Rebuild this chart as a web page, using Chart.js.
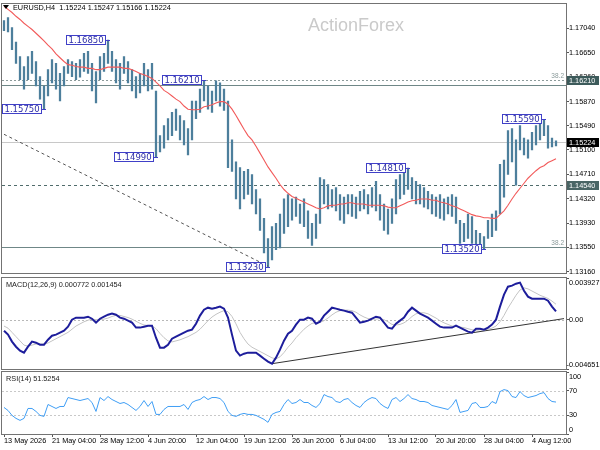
<!DOCTYPE html>
<html>
<head>
<meta charset="utf-8">
<script src="https://cdn.jsdelivr.net/npm/chart.js@4.4.0/dist/chart.umd.min.js"></script>
<style>
  html, body { margin: 0; padding: 0; background: #fff; }
  #wrap { position: relative; width: 600px; height: 450px; overflow: hidden; }
  .pane { position: absolute; left: 0; width: 600px; }
  #mainPane { top: 0; height: 278px; }
  #macdPane { top: 276px; height: 96px; }
  #rsiPane { top: 370px; height: 80px; }
</style>
</head>
<body>
<div id="wrap">
  <div class="pane" id="mainPane"><canvas id="mainChart"></canvas></div>
  <div class="pane" id="macdPane"><canvas id="macdChart"></canvas></div>
  <div class="pane" id="rsiPane"><canvas id="rsiChart"></canvas></div>
</div>
<script>
const FONT = '"Liberation Sans", Arial, sans-serif';
Chart.defaults.font.family = FONT;
Chart.defaults.font.size = 7.3;
Chart.defaults.color = '#000';
Chart.defaults.animation = false;

// eje de tiempo
const tickLabels = ['13 May 2026', '21 May 04:00', '28 May 12:00', '4 Jun 20:00', '12 Jun 04:00', '19 Jun 12:00',
  '26 Jun 20:00', '6 Jul 04:00', '13 Jul 12:00', '20 Jul 20:00', '28 Jul 04:00', '4 Aug 12:00'];
const slotCount = 141;
const barsPerTick = 12;

// precios (máximo / mínimo de cada barra)
const priceHigh = [
  1.1716, 1.1721, 1.1705, 1.1682, 1.1659, 1.1643, 1.1659, 1.1667, 1.1651, 1.1627,
  1.1612, 1.1638, 1.1654, 1.1648, 1.1632, 1.1643, 1.1654, 1.1651, 1.1648, 1.1654,
  1.1664, 1.1667, 1.1648, 1.1635, 1.1659, 1.1664, 1.1685, 1.1667, 1.1654, 1.1648,
  1.1659, 1.1651, 1.1638, 1.1627, 1.1632, 1.1648, 1.1638, 1.1648, 1.1604, 1.1533,
  1.1549, 1.1560, 1.1570, 1.1575, 1.1565, 1.1557, 1.1544, 1.1588, 1.1588, 1.1607,
  1.1621, 1.1612, 1.1604, 1.1620, 1.1617, 1.1607, 1.1588, 1.1526, 1.1491, 1.1482,
  1.1476, 1.1479, 1.1471, 1.1447, 1.1432, 1.1401, 1.1369, 1.1388, 1.1393, 1.1408,
  1.1432, 1.1439, 1.1432, 1.1435, 1.1424, 1.1432, 1.1413, 1.1393, 1.1408, 1.1466,
  1.1463, 1.1455, 1.1447, 1.1450, 1.1439, 1.1435, 1.1439, 1.1439, 1.1435, 1.1444,
  1.1447, 1.1439, 1.1450, 1.1460, 1.1439, 1.1424, 1.1416, 1.1432, 1.1463, 1.1471,
  1.1476, 1.1481, 1.1466, 1.1460, 1.1455, 1.1450, 1.1444, 1.1439, 1.1435, 1.1439,
  1.1432, 1.1435, 1.1439, 1.1435, 1.1398, 1.1393, 1.1408, 1.1404, 1.1382, 1.1377,
  1.1372, 1.1398, 1.1408, 1.1413, 1.1487, 1.1494, 1.1541, 1.1544, 1.1526, 1.1549,
  1.1529, 1.1526, 1.1538, 1.1549, 1.1557, 1.1559, 1.1549, 1.1529, 1.15247
];
const priceLow = [
  1.1700, 1.1698, 1.1670, 1.1648, 1.1622, 1.1607, 1.1622, 1.1632, 1.1612, 1.1591,
  1.1575, 1.1596, 1.1617, 1.1607, 1.1588, 1.1612, 1.1632, 1.1627, 1.1622, 1.1626,
  1.1635, 1.1632, 1.1604, 1.1585, 1.1622, 1.1635, 1.1648, 1.1635, 1.1617, 1.1607,
  1.1632, 1.1617, 1.1604, 1.1593, 1.1601, 1.1612, 1.1604, 1.1607, 1.1499, 1.1507,
  1.1513, 1.1526, 1.1533, 1.1541, 1.1526, 1.1518, 1.1502, 1.1526, 1.1560, 1.1570,
  1.1588, 1.1575, 1.1570, 1.1588, 1.1580, 1.1573, 1.1482, 1.1476, 1.1432, 1.1416,
  1.1432, 1.1439, 1.1424, 1.1408, 1.1382, 1.1346, 1.1323, 1.1335, 1.1351, 1.1354,
  1.1377, 1.1388, 1.1398, 1.1404, 1.1393, 1.1388, 1.1369, 1.1358, 1.1369, 1.1393,
  1.1424, 1.1416, 1.1419, 1.1413, 1.1398, 1.1393, 1.1408, 1.1404, 1.1401, 1.1413,
  1.1416, 1.1408, 1.1419, 1.1413, 1.1398, 1.1382, 1.1376, 1.1393, 1.1408, 1.1432,
  1.1439, 1.1447, 1.1432, 1.1424, 1.1424, 1.1419, 1.1416, 1.1408, 1.1404, 1.1401,
  1.1398, 1.1408, 1.1404, 1.1393, 1.1361, 1.1364, 1.1369, 1.1361, 1.1357, 1.1354,
  1.1352, 1.1369, 1.1372, 1.1382, 1.1408, 1.1435, 1.1471, 1.1491, 1.1454, 1.1510,
  1.1502, 1.1497, 1.1510, 1.1518, 1.1526, 1.1533, 1.1513, 1.1515, 1.15166
];
// media móvil (línea roja)
const maValues = [
  1.1739, 1.1734, 1.1729, 1.1723, 1.1718, 1.1712, 1.1707, 1.1702, 1.1696, 1.1690,
  1.1684, 1.1677, 1.1671, 1.1663, 1.1657, 1.1651, 1.1646, 1.1645, 1.1643, 1.1642,
  1.1642, 1.1640, 1.1640, 1.1638, 1.1638, 1.1640, 1.1642, 1.1642, 1.1642, 1.1642,
  1.1640, 1.1640, 1.1638, 1.1635, 1.1632, 1.1630, 1.1627, 1.1624, 1.1618, 1.1612,
  1.1605, 1.1601, 1.1596, 1.1591, 1.1587, 1.1580, 1.1575, 1.1574, 1.1574, 1.1575,
  1.1579, 1.1580, 1.1582, 1.1585, 1.1587, 1.1587, 1.1583, 1.1575, 1.1565, 1.1554,
  1.1543, 1.1533, 1.1526, 1.1516, 1.1505, 1.1494, 1.1483, 1.1474, 1.1465, 1.1455,
  1.1447, 1.1441, 1.1436, 1.1433, 1.1430, 1.1427, 1.1424, 1.1421, 1.1418, 1.1416,
  1.1418, 1.1421, 1.1422, 1.1422, 1.1424, 1.1424, 1.1426, 1.1426, 1.1424, 1.1424,
  1.1424, 1.1422, 1.1422, 1.1422, 1.1422, 1.1421, 1.1419, 1.1418, 1.1418, 1.1421,
  1.1424, 1.1427, 1.1429, 1.1430, 1.1432, 1.1432, 1.1432, 1.1430, 1.1430, 1.1427,
  1.1426, 1.1424, 1.1421, 1.1419, 1.1416, 1.1413, 1.1410, 1.1407, 1.1405, 1.1404,
  1.1402, 1.1402, 1.1401, 1.1401, 1.1407, 1.1413, 1.1422, 1.1432, 1.1441, 1.1449,
  1.1457, 1.1465, 1.1471, 1.1477, 1.1482, 1.1485, 1.1490, 1.1493, 1.1496
];
const priceTicks = [1.1316, 1.1355, 1.1393, 1.1432, 1.1471, 1.1510, 1.1549, 1.1587, 1.1626, 1.1665, 1.1704];
const levelPrices = [1.1621, 1.1613, 1.15224, 1.1454, 1.1355];
const fibPrices = [1.1621, 1.1355];
const tagPrices = [1.1621, 1.15224, 1.1454];
const markerIdx = [26, 10, 50, 38, 66, 101, 120, 135];
const markerPrice = [1.1685, 1.1575, 1.1621, 1.1499, 1.1323, 1.1481, 1.1352, 1.1559];
const priceTrend = [[0, 1.1535], [66, 1.1325]];

// MACD(12,26,9)
const macdMain = [
  -0.00104, -0.00141, -0.00207, -0.00255, -0.00292, -0.00311, -0.00255, -0.00207, -0.00217, -0.00236,
  -0.00236, -0.00189, -0.00151, -0.00141, -0.00123, -0.00104, -0.00066, 0.00000, 0.00019, 0.00019,
  0.00019, 0.00028, 0.00009, -0.00028, 0.00009, 0.00028, 0.00047, 0.00057, 0.00047, 0.00019,
  0.00009, -0.00009, -0.00028, -0.00075, -0.00075, -0.00066, -0.00057, -0.00057, -0.00170, -0.00264,
  -0.00264, -0.00236, -0.00179, -0.00160, -0.00141, -0.00123, -0.00104, -0.00094, -0.00038, 0.00038,
  0.00094, 0.00113, 0.00104, 0.00113, 0.00123, 0.00104, 0.00019, -0.00141, -0.00292, -0.00339,
  -0.00321, -0.00311, -0.00311, -0.00311, -0.00339, -0.00368, -0.00396, -0.00415, -0.00358, -0.00283,
  -0.00198, -0.00132, -0.00104, -0.00047, 0.00000, 0.00000, 0.00019, 0.00009, -0.00038, -0.00019,
  0.00038, 0.00075, 0.00113, 0.00104, 0.00094, 0.00085, 0.00075, 0.00066, 0.00019, -0.00028,
  -0.00019, -0.00009, 0.00009, 0.00028, 0.00019, -0.00028, -0.00075, -0.00085, -0.00038, -0.00009,
  0.00019, 0.00075, 0.00113, 0.00085, 0.00057, 0.00038, 0.00019, -0.00009, -0.00038, -0.00066,
  -0.00075, -0.00075, -0.00075, -0.00057, -0.00075, -0.00094, -0.00113, -0.00123, -0.00085, -0.00085,
  -0.00094, -0.00075, -0.00047, 0.00000, 0.00123, 0.00236, 0.00311, 0.00321, 0.00339, 0.00349,
  0.00273, 0.00217, 0.00198, 0.00198, 0.00198, 0.00198, 0.00179, 0.00123, 0.000772
];
const macdSignal = [
  -0.00060, -0.00080, -0.00120, -0.00160, -0.00200, -0.00240, -0.00250, -0.00240, -0.00230, -0.00230,
  -0.00230, -0.00220, -0.00200, -0.00180, -0.00160, -0.00140, -0.00120, -0.00090, -0.00060, -0.00040,
  -0.00020, -0.00005, 0.00005, 0.00000, 0.00000, 0.00005, 0.00015, 0.00030, 0.00040, 0.00040,
  0.00030, 0.00020, 0.00005, -0.00015, -0.00035, -0.00050, -0.00055, -0.00060, -0.00085, -0.00130,
  -0.00170, -0.00200, -0.00210, -0.00200, -0.00190, -0.00175, -0.00160, -0.00140, -0.00120, -0.00090,
  -0.00050, -0.00010, 0.00025, 0.00050, 0.00070, 0.00085, 0.00075, 0.00030, -0.00040, -0.00120,
  -0.00180, -0.00230, -0.00260, -0.00280, -0.00300, -0.00320, -0.00340, -0.00360, -0.00370, -0.00350,
  -0.00310, -0.00260, -0.00220, -0.00170, -0.00130, -0.00090, -0.00060, -0.00035, -0.00030, -0.00025,
  -0.00010, 0.00015, 0.00045, 0.00070, 0.00085, 0.00090, 0.00090, 0.00085, 0.00070, 0.00045,
  0.00025, 0.00010, 0.00005, 0.00005, 0.00010, 0.00000, -0.00020, -0.00045, -0.00050, -0.00045,
  -0.00030, -0.00005, 0.00030, 0.00055, 0.00065, 0.00065, 0.00055, 0.00035, 0.00015, -0.00010,
  -0.00030, -0.00045, -0.00060, -0.00065, -0.00070, -0.00075, -0.00085, -0.00095, -0.00100, -0.00095,
  -0.00095, -0.00090, -0.00080, -0.00060, -0.00020, 0.00040, 0.00110, 0.00170, 0.00230, 0.00280,
  0.00300, 0.00290, 0.00270, 0.00250, 0.00230, 0.00215, 0.00200, 0.00175, 0.001454
];
const macdAxisValues = [0.003927, 0, -0.004651];
const macdAxisText = ['0.003927', '0.00', '-0.004651'];
const macdTrend = [[67, -0.00415], [140, 0.0001]];

// RSI(14)
const rsiValues = [
  42.8, 38, 30, 25.2, 22, 25.2, 41.2, 41.2, 36.4, 30,
  28.4, 47.6, 44.4, 41.2, 44.4, 44.4, 58.8, 57.2, 55.6, 54,
  55.6, 57.2, 50.8, 36.4, 58.8, 54, 60.4, 55.6, 52.4, 49.2,
  50.8, 47.6, 42.8, 38, 44.4, 54, 44.4, 52.4, 31.6, 31.6,
  39.6, 44.4, 44.4, 44.4, 44.4, 47.6, 39.6, 50.8, 54, 55.6,
  60.4, 55.6, 58.8, 58.8, 57.2, 50.8, 36.4, 30, 28.4, 31.6,
  33.2, 31.6, 31.6, 30, 26.8, 23.6, 18.8, 31.6, 34.8, 36.4,
  47.6, 55.6, 49.2, 50.8, 55.6, 50.8, 50.8, 46, 42.8, 49.2,
  63.6, 60.4, 58.8, 52.4, 50.8, 55.6, 57.2, 50.8, 46, 42.8,
  50.8, 55.6, 58.8, 57.2, 49.2, 44.4, 41.2, 55.6, 58.8, 52.4,
  57.2, 63.6, 57.2, 55.6, 52.4, 52.4, 50.8, 46, 44.4, 42.8,
  41.2, 39.6, 46, 55.6, 34.8, 36.4, 38, 49.2, 50.8, 42.8,
  42.8, 44.4, 52.4, 49.2, 68.4, 71.6, 70, 60.4, 58.8, 68.4,
  62, 58.8, 60.4, 62, 65.2, 66.8, 57.2, 52.4, 51.5254
];
const rsiAxisValues = [100, 70, 30, 0];
const rsiLevels = [70, 30];

const labels = Array.from({length: slotCount}, (_, i) =>
  (i % barsPerTick === 0 && tickLabels[i / barsPerTick]) || '');

// arma un arreglo con nulls salvo en los puntos dados
function sparse(points) {
  const arr = new Array(slotCount).fill(null);
  points.forEach(([i, v]) => { arr[i] = v; });
  return arr;
}

function drawFrame(ctx, a) {
  ctx.strokeStyle = '#737373';
  ctx.lineWidth = 1;
  ctx.setLineDash([]);
  ctx.strokeRect(Math.round(a.left) - 0.5, Math.round(a.top) - 0.5, Math.round(a.width) + 1, Math.round(a.height) + 1);
}

function hLine(ctx, a, py, color, dash) {
  py = Math.round(py) + 0.5;
  ctx.strokeStyle = color;
  ctx.lineWidth = 1;
  ctx.setLineDash(dash);
  ctx.beginPath();
  ctx.moveTo(a.left, py);
  ctx.lineTo(a.right, py);
  ctx.stroke();
  ctx.setLineDash([]);
}

const mainDecor = {
  id: 'mainDecor',
  beforeDatasetsDraw(chart) {
    const {ctx, chartArea: a, scales: {y}} = chart;
    ctx.save();
    ctx.font = '18px ' + FONT;
    ctx.fillStyle = '#cacaca';
    ctx.textBaseline = 'middle';
    ctx.fillText('ActionForex', 308, 26);
    const styles = [['#8c9b9b', [2, 2]], ['#6f8787', []], ['#c8c8c8', []], ['#506c6c', [3, 3]], ['#6f8787', []]];
    levelPrices.forEach((p, k) => hLine(ctx, a, y.getPixelForValue(p), styles[k][0], styles[k][1]));
    ctx.font = '6.5px ' + FONT;
    ctx.fillStyle = '#8a9a9a';
    ctx.textAlign = 'right';
    ctx.textBaseline = 'bottom';
    fibPrices.forEach(p => ctx.fillText('38.2', a.right - 2, y.getPixelForValue(p) - 0.5));
    ctx.restore();
  },
  afterDatasetsDraw(chart) {
    const {ctx, scales: {x, y}} = chart;
    ctx.save();
    ctx.font = '8.5px "DejaVu Sans", sans-serif';
    ctx.textBaseline = 'middle';
    markerIdx.forEach((idx, k) => {
      const xb = x.getPixelForValue(idx);
      const yb = Math.round(y.getPixelForValue(markerPrice[k]));
      const text = markerPrice[k].toFixed(5);
      const w = Math.round(ctx.measureText(text).width) + 4;
      const right = Math.round(xb) - 3;
      const left = right - w;
      ctx.fillStyle = '#fff';
      ctx.fillRect(left, yb - 4, w, 9);
      ctx.strokeStyle = '#4040c8';
      ctx.lineWidth = 1;
      ctx.strokeRect(left + 0.5, yb - 4.5, w, 9);
      ctx.beginPath();
      ctx.moveTo(right + 0.5, yb + 0.5);
      ctx.lineTo(xb + 2, yb + 0.5);
      ctx.stroke();
      ctx.fillStyle = '#2e2ea8';
      ctx.fillText(text, left + 2.5, yb + 0.5);
    });
    ctx.restore();
  },
  afterDraw(chart) {
    const {ctx, chartArea: a, scales: {y}} = chart;
    ctx.save();
    drawFrame(ctx, a);
    // etiquetas resaltadas en el eje de precios
    const tagColors = ['#3d5b5b', '#000000', '#4a6565'];
    ctx.font = '7.3px ' + FONT;
    ctx.textBaseline = 'middle';
    tagPrices.forEach((p, k) => {
      const py = Math.round(y.getPixelForValue(p));
      ctx.fillStyle = tagColors[k];
      ctx.fillRect(a.right + 1, py - 4, 32, 9);
      ctx.fillStyle = '#fff';
      ctx.fillText(p.toFixed(5), a.right + 3, py + 0.5);
    });
    // encabezado
    ctx.fillStyle = '#000';
    ctx.beginPath();
    ctx.moveTo(3, 5); ctx.lineTo(9, 5); ctx.lineTo(6, 9); ctx.closePath();
    ctx.fill();
    ctx.fillText('EURUSD,H4  1.15224 1.15247 1.15166 1.15224', 13, 7.5);
    ctx.restore();
  }
};

function paneDecor(title, levels, levelColor, axisValues, axisText) {
  return {
    id: 'paneDecor',
    beforeDatasetsDraw(chart) {
      const {ctx, chartArea: a, scales: {y}} = chart;
      ctx.save();
      levels.forEach(v => hLine(ctx, a, y.getPixelForValue(v), levelColor, [2, 2]));
      ctx.restore();
    },
    afterDraw(chart) {
      const {ctx, chartArea: a, scales: {y}} = chart;
      ctx.save();
      drawFrame(ctx, a);
      ctx.font = '7.3px ' + FONT;
      ctx.fillStyle = '#222';
      ctx.textBaseline = 'middle';
      ctx.fillText(title, a.left + 4, a.top + 6.5);
      ctx.fillStyle = '#000';
      axisValues.forEach((v, k) => {
        const py = Math.min(Math.max(y.getPixelForValue(v), a.top + 5), a.bottom - 4.5);
        const text = axisText[k];
        const shift = text.startsWith('-') ? ctx.measureText('-').width : 0;
        ctx.fillText(text, a.right + 3 - shift, py);
      });
      ctx.restore();
    }
  };
}

const baseOptions = (padding) => ({
  responsive: true,
  maintainAspectRatio: false,
  layout: { padding },
  plugins: { legend: { display: false }, tooltip: { enabled: false } },
  elements: { point: { radius: 0 } }
});

const rightAxis = (min, max, values, showLabels) => ({
  position: 'right',
  min, max,
  afterFit: s => { s.width = 34; },
  afterBuildTicks: s => { s.ticks = values.map(v => ({ value: v })); },
  ticks: { display: showLabels, padding: 0, callback: v => v.toFixed(5) },
  grid: { drawOnChartArea: false, tickLength: 3, color: '#555' },
  border: { color: '#737373' }
});

new Chart(document.getElementById('mainChart'), {
  type: 'bar',
  data: {
    labels,
    datasets: [
      { type: 'line', data: maValues, borderColor: '#f25a5a', borderWidth: 1.1, pointRadius: 0, order: 1 },
      { type: 'line', data: sparse(priceTrend), borderColor: '#555', borderWidth: 1, borderDash: [3, 3],
        pointRadius: 0, spanGaps: true, order: 2 },
      { data: priceLow.map((lo, i) => [lo, priceHigh[i]]), backgroundColor: '#4d7f9c', borderWidth: 0,
        barThickness: 1.6, order: 3 }
    ]
  },
  options: Object.assign(baseOptions({ left: 2, top: 2, bottom: 2, right: 0 }), {
    scales: {
      x: { display: false, offset: true },
      y: rightAxis(1.1313, 1.1742, priceTicks, true)
    }
  }),
  plugins: [mainDecor]
});

new Chart(document.getElementById('macdChart'), {
  type: 'line',
  data: {
    labels,
    datasets: [
      { data: macdMain, borderColor: '#1d1d9b', borderWidth: 2, pointRadius: 0, order: 1 },
      { data: macdSignal, borderColor: '#c4c4c4', borderWidth: 1, pointRadius: 0, order: 2 },
      { data: sparse(macdTrend), borderColor: '#333', borderWidth: 1, pointRadius: 0, spanGaps: true, order: 3 }
    ]
  },
  options: Object.assign(baseOptions({ left: 2, top: 2, bottom: 3, right: 0 }), {
    scales: {
      x: { display: false, offset: true },
      y: rightAxis(-0.004651, 0.003927, macdAxisValues, false)
    }
  }),
  plugins: [paneDecor('MACD(12,26,9) 0.000772 0.001454', [0], '#b8b8b8', macdAxisValues, macdAxisText)]
});

new Chart(document.getElementById('rsiChart'), {
  type: 'line',
  data: {
    labels,
    datasets: [
      { data: rsiValues, borderColor: '#3f9ef5', borderWidth: 1, pointRadius: 0 }
    ]
  },
  options: Object.assign(baseOptions({ left: 2, top: 2, bottom: 0, right: 0 }), {
    scales: {
      x: {
        offset: true,
        afterFit: s => { s.height = 16; },
        ticks: {
          autoSkip: false, maxRotation: 0, align: 'start', padding: 0,
          callback(value) { return this.getLabelForValue(value) || null; }
        },
        grid: { drawOnChartArea: false, tickLength: 3, color: '#555' },
        border: { color: '#737373' }
      },
      y: rightAxis(0, 100, rsiAxisValues, false)
    }
  }),
  plugins: [paneDecor('RSI(14) 51.5254', rsiLevels, '#c8c8c8', rsiAxisValues, rsiAxisValues.map(String))]
});
</script>
</body>
</html>
